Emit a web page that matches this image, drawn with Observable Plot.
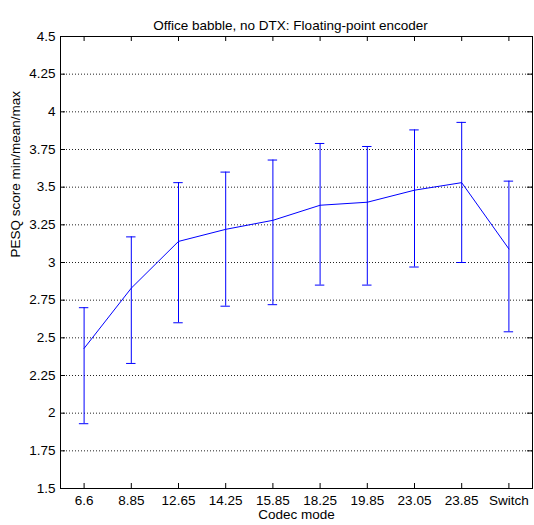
<!DOCTYPE html>
<html><head><meta charset="utf-8">
<script src="https://cdn.jsdelivr.net/npm/d3@7"></script>
<script src="https://cdn.jsdelivr.net/npm/@observablehq/plot@0.6"></script>
<style>html,body{margin:0;padding:0;background:#fff;overflow:hidden;} #chart svg{display:block;max-width:none !important;}</style>
</head><body><div id="chart"></div>
<script>
const categories = ["6.6","8.85","12.65","14.25","15.85","18.25","19.85","23.05","23.85","Switch"];
const meanScore = [2.43, 2.83, 3.14, 3.22, 3.28, 3.38, 3.40, 3.48, 3.53, 3.09];
const minScore  = [1.93, 2.33, 2.60, 2.71, 2.72, 2.85, 2.85, 2.97, 3.00, 2.54];
const maxScore  = [2.70, 3.17, 3.53, 3.60, 3.68, 3.79, 3.77, 3.88, 3.93, 3.54];
const yTicks = [1.5, 1.75, 2, 2.25, 2.5, 2.75, 3, 3.25, 3.5, 3.75, 4, 4.25, 4.5];
const yTickLabels = ["1.5","1.75","2","2.25","2.5","2.75","3","3.25","3.5","3.75","4","4.25","4.5"];
const titleText = "Office babble, no DTX: Floating-point encoder";
const xLabel = "Codec mode";
const yLabel = "PESQ score min/mean/max";

const W = 534, H = 525;
const mL = 60, mR = 2, mT = 36, mB = 37;
const pw = W - mL - mR, ph = H - mT - mB;
const tickLen = 5;
const capHalf = 0.1;
const blue = "#0000ff";
const fs = 13.5;

const rows = categories.map((c, i) => ({pos: i + 1, label: c, mean: meanScore[i], min: minScore[i], max: maxScore[i]}));
const positions = rows.map(d => d.pos);
const innerTicks = yTicks.slice(1, -1);

const chart = Plot.plot({
  width: W, height: H,
  marginLeft: mL, marginRight: mR, marginTop: mT, marginBottom: mB,
  style: {fontFamily: "'Liberation Sans', Arial, sans-serif", fontSize: fs + "px", background: "#fff", color: "#000"},
  x: {domain: [0.5, 10.5]},
  y: {domain: [1.5, 4.5]},
  marks: [
    Plot.ruleY(innerTicks, {y: d => d, stroke: "#222", strokeDasharray: "1,2"}),
    Plot.ruleY(yTicks, {y: d => d, insetRight: pw - tickLen, stroke: "#000"}),
    Plot.ruleY(yTicks, {y: d => d, insetLeft: pw - tickLen, stroke: "#000"}),
    Plot.ruleX(positions, {x: d => d, insetBottom: ph - tickLen, stroke: "#000"}),
    Plot.ruleX(positions, {x: d => d, insetTop: ph - tickLen, stroke: "#000"}),
    Plot.axisY(yTicks, {tickSize: 0, tickPadding: 5, fontSize: fs, tickFormat: d => yTickLabels[yTicks.indexOf(d)], label: null}),
    Plot.axisX(positions, {tickSize: 0, tickPadding: 7, fontSize: fs, tickFormat: d => categories[d - 1], label: null}),
    Plot.ruleX(rows, {x: "pos", y1: "min", y2: "max", stroke: blue}),
    Plot.ruleY(rows, {y: "min", x1: d => d.pos - capHalf, x2: d => d.pos + capHalf, stroke: blue}),
    Plot.ruleY(rows, {y: "max", x1: d => d.pos - capHalf, x2: d => d.pos + capHalf, stroke: blue}),
    Plot.line(rows, {x: "pos", y: "mean", stroke: blue, strokeWidth: 1}),
    Plot.frame({stroke: "#000"}),
    Plot.text([titleText], {frameAnchor: "top", dx: -6, dy: -16, fontSize: fs, text: d => d, fill: "#000"}),
    Plot.text([xLabel], {frameAnchor: "bottom", dy: 30, fontSize: fs, text: d => d, fill: "#000"}),
    Plot.text([yLabel], {frameAnchor: "left", dx: -45, dy: -5, rotate: -90, fontSize: fs, text: d => d, fill: "#000"})
  ]
});
document.getElementById("chart").appendChild(chart);
</script>
</body></html>
